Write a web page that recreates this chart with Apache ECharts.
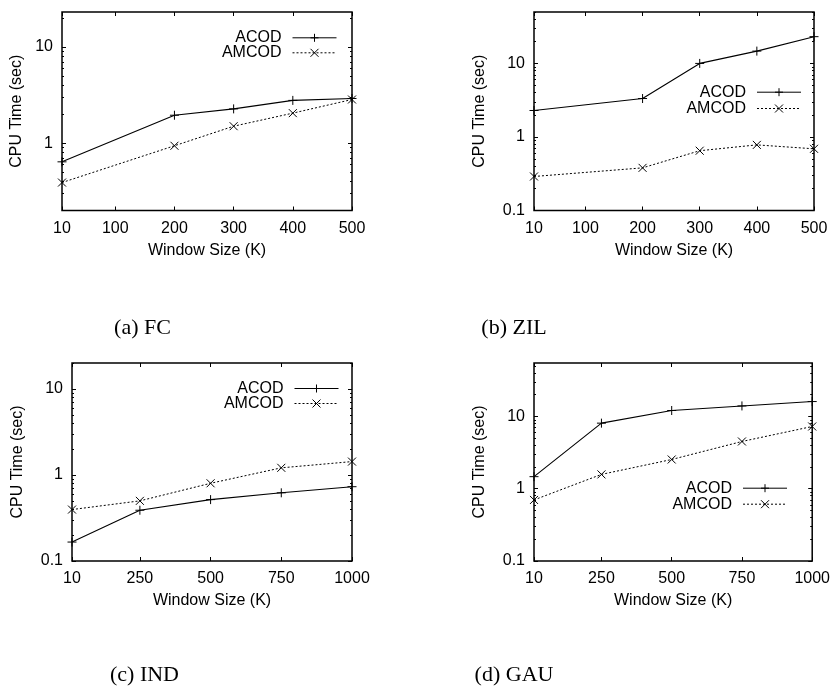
<!DOCTYPE html>
<html>
<head>
<meta charset="utf-8">
<script src="https://cdn.jsdelivr.net/npm/echarts@6/dist/echarts.min.js"></script>
<style>
html,body{margin:0;padding:0;background:#fff}
#main{width:833px;height:691px}
</style>
</head>
<body>
<div id="main"></div>
<script>
// window sizes (K)
var xFcZil = [10, 200, 300, 400, 500];
var xIndGau = [10, 250, 500, 750, 1000];
var xTicksFcZil = [10, 100, 200, 300, 400, 500];
var xTicksIndGau = [10, 250, 500, 750, 1000];

// CPU time (sec)
var fcAcod = [0.64, 1.95, 2.27, 2.78, 2.91];
var fcAmcod = [0.39, 0.94, 1.50, 2.05, 2.84];
var zilAcod = [2.29, 3.33, 10.0, 14.7, 23.1];
var zilAmcod = [0.29, 0.38, 0.65, 0.78, 0.69];
var indAcod = [0.166, 0.389, 0.517, 0.62, 0.73];
var indAmcod = [0.396, 0.50, 0.80, 1.21, 1.43];
var gauAcod = [1.47, 8.09, 12.1, 14.0, 16.1];
var gauAmcod = [0.70, 1.58, 2.54, 4.51, 7.27];

var yTicksFc = [1, 10];
var yTicks = [0.1, 1, 10];
var captions = ['(a) FC', '(b) ZIL', '(c) IND', '(d) GAU'];

var FONT = 'Liberation Sans';
var W = 833;

// 面板布局
var panels = [
  {grid: [62, 12, 290, 198.5], x: xFcZil, xt: xTicksFcZil, xmax: 500, ymin: 0.2, ymax: 23, yt: yTicksFc,
   a: fcAcod, m: fcAmcod, gapY: 37, leg: [337, 38.3, 53.3], cap: [142.5, 317]},
  {grid: [534, 12, 280, 198.5], x: xFcZil, xt: xTicksFcZil, xmax: 500, ymin: 0.1, ymax: 50, yt: yTicks,
   a: zilAcod, m: zilAmcod, gapY: 46, leg: [801.5, 92.7, 109], cap: [514, 317]},
  {grid: [72, 363, 280, 198], x: xIndGau, xt: xTicksIndGau, xmax: 1000, ymin: 0.1, ymax: 20, yt: yTicks,
   a: indAcod, m: indAmcod, gapY: 46, leg: [339, 389, 404], cap: [144.5, 664]},
  {grid: [534, 363, 281, 198], x: xIndGau, xt: xTicksIndGau, xmax: 1000, ymin: 0.1, ymax: 55, yt: yTicks,
   a: gauAcod, m: gauAmcod, gapY: 46, leg: [787.5, 488.7, 504.7], cap: [514, 664]}
];

function minorTicks(lo, hi) {
  var out = [];
  [0.1, 1, 10].forEach(function (d) {
    for (var k = 2; k <= 9; k++) {
      var v = Math.round(d * k * 1000) / 1000;
      if (v >= lo && v <= hi) out.push(v);
    }
  });
  return out;
}

function pairs(xs, ys) {
  return xs.map(function (x, i) { return [x, ys[i]]; });
}

function plain(v) { return String(v); }

var plusSym = 'path://M0,5L10,5M5,0L5,10';
var crossSym = 'path://M0,0L10,10M10,0L0,10';
var tickLine = {color: '#000', width: 1};
var txt = {fontFamily: FONT, fontSize: 16, color: '#000'};

var option = {
  animation: false,
  backgroundColor: '#fff',
  grid: [], xAxis: [], yAxis: [], series: [], legend: [], title: []
};

panels.forEach(function (p, i) {
  option.grid.push({left: p.grid[0], top: p.grid[1], width: p.grid[2], height: p.grid[3],
    show: true, borderColor: '#000', borderWidth: 1.5, backgroundColor: 'transparent'});

  // x 轴：下方带标签，上方镜像刻度
  option.xAxis.push({
    type: 'value', gridIndex: i, min: 10, max: p.xmax, position: 'bottom',
    axisLine: {show: false}, splitLine: {show: false},
    axisTick: {show: true, inside: true, length: 4, customValues: p.xt, lineStyle: tickLine},
    axisLabel: Object.assign({customValues: p.xt, margin: 10, formatter: plain}, txt),
    name: 'Window Size (K)', nameLocation: 'middle', nameGap: 32, nameTextStyle: txt
  });
  option.xAxis.push({
    type: 'value', gridIndex: i, min: 10, max: p.xmax, position: 'top',
    axisLine: {show: false}, splitLine: {show: false}, axisLabel: {show: false},
    axisTick: {show: true, inside: true, length: 4, customValues: p.xt, lineStyle: tickLine}
  });

  var minors = minorTicks(p.ymin, p.ymax);
  ['left', 'right'].forEach(function (pos) {
    var major = {
      type: 'log', logBase: 10, gridIndex: i, min: p.ymin, max: p.ymax, position: pos,
      axisLine: {show: false}, splitLine: {show: false}, minorTick: {show: false},
      axisTick: {show: true, inside: true, length: 4, customValues: p.yt, lineStyle: tickLine},
      axisLabel: pos === 'left' ? Object.assign({customValues: p.yt, margin: 9, formatter: plain}, txt) : {show: false}
    };
    if (pos === 'left') {
      major.name = 'CPU Time (sec)';
      major.nameLocation = 'middle';
      major.nameGap = p.gapY;
      major.nameTextStyle = txt;
    }
    option.yAxis.push(major);
    option.yAxis.push({
      type: 'log', logBase: 10, gridIndex: i, min: p.ymin, max: p.ymax, position: pos,
      axisLine: {show: false}, splitLine: {show: false}, axisLabel: {show: false},
      axisTick: {show: true, inside: true, length: 2, customValues: minors, lineStyle: tickLine}
    });
  });

  option.series.push({
    name: 'ACOD', type: 'line', xAxisIndex: 2 * i, yAxisIndex: 4 * i,
    data: pairs(p.x, p.a), symbol: plusSym, symbolSize: 9,
    itemStyle: {color: 'transparent', borderColor: '#000', borderWidth: 1},
    lineStyle: {color: '#000', width: 1.1, type: 'solid'}
  });
  option.series.push({
    name: 'AMCOD', type: 'line', xAxisIndex: 2 * i, yAxisIndex: 4 * i,
    data: pairs(p.x, p.m), symbol: crossSym, symbolSize: 8,
    itemStyle: {color: 'transparent', borderColor: '#000', borderWidth: 1},
    lineStyle: {color: '#000', width: 1, type: [2, 2]}
  });

  [['ACOD', 'solid', p.leg[1]], ['AMCOD', [2, 2], p.leg[2]]].forEach(function (l) {
    option.legend.push({
      data: [l[0]], orient: 'vertical', align: 'right', selectedMode: false,
      right: W - p.leg[0], top: l[2] - 8.5, padding: 0, itemGap: 0,
      itemWidth: 44, itemHeight: 10,
      textStyle: Object.assign({padding: [0, 6, 0, 0]}, txt),
      itemStyle: {color: 'transparent', borderColor: '#000', borderWidth: 1},
      lineStyle: {color: '#000', width: 1, type: l[1]}
    });
  });

  option.title.push({
    text: captions[i], left: p.cap[0], top: p.cap[1], textAlign: 'center', padding: 0,
    textStyle: {fontFamily: 'Liberation Serif', fontSize: 22, fontWeight: 'normal', color: '#000'}
  });
});

var myChart = echarts.init(document.getElementById('main'));
myChart.setOption(option);
</script>
</body>
</html>
